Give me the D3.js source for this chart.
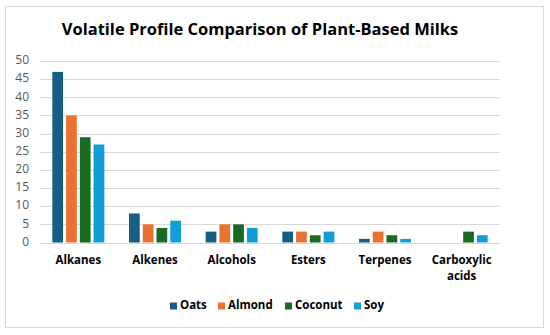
<!DOCTYPE html>
<html>
<head>
<meta charset="utf-8">
<script src="https://cdn.jsdelivr.net/npm/d3@7"></script>
<style>
	body { margin: 0; background: #fff; }
	svg { display: block; font-family: 'Open Sans', 'Noto Sans', sans-serif; }
</style>
</head>
<body>
<svg id="chart"></svg>
<script>
const categories = ['Alkanes', 'Alkenes', 'Alcohols', 'Esters', 'Terpenes', 'Carboxylic acids'];
const seriesNames = ['Oats', 'Almond', 'Coconut', 'Soy'];
const oats = [47, 8, 3, 3, 1, 0];
const almond = [35, 5, 5, 3, 3, 0];
const coconut = [29, 4, 5, 2, 2, 3];
const soy = [27, 6, 4, 3, 1, 2];
const yTicks = [0, 5, 10, 15, 20, 25, 30, 35, 40, 45, 50];
const colors = ['#156082', '#E97132', '#196B24', '#0F9ED5'];

const seriesValues = [oats, almond, coconut, soy];

const WIDTH = 550;
const HEIGHT = 335;
const margin = { top: 61, right: 50, bottom: 93, left: 40 };

const svg = d3.select('#chart').attr('width', WIDTH).attr('height', HEIGHT);

// chart frame
svg.append('rect')
	.attr('x', 5.5).attr('y', 6.5)
	.attr('width', 538).attr('height', 321)
	.attr('fill', '#fff')
	.attr('stroke', '#d9d9d9');

svg.append('text')
	.attr('x', 260).attr('y', 31)
	.attr('text-anchor', 'middle')
	.attr('dominant-baseline', 'middle')
	.attr('font-size', '16.5px')
	.attr('font-weight', 'bold')
	.attr('fill', '#000')
	.text('Volatile Profile Comparison of Plant-Based Milks');

const x0 = d3.scaleBand()
	.domain(categories)
	.range([margin.left, WIDTH - margin.right]);

const x1 = d3.scaleBand()
	.domain(seriesNames)
	.range([0, 52])
	.paddingInner(0.22);

const y = d3.scaleLinear()
	.domain([0, 50])
	.range([HEIGHT - margin.bottom + 0.5, margin.top]);

// gridlines
svg.append('g')
	.selectAll('line')
	.data(yTicks)
	.enter()
	.append('line')
	.attr('x1', margin.left)
	.attr('x2', WIDTH - margin.right)
	.attr('y1', (d) => Math.round(y(d)) + 0.5)
	.attr('y2', (d) => Math.round(y(d)) + 0.5)
	.attr('stroke', '#d9d9d9')
	.attr('stroke-width', 1);

// y tick labels
svg.append('g')
	.selectAll('text')
	.data(yTicks)
	.enter()
	.append('text')
	.attr('x', 29)
	.attr('y', (d) => y(d))
	.attr('text-anchor', 'end')
	.attr('dominant-baseline', 'middle')
	.attr('font-size', '12px')
	.attr('fill', '#595959')
	.text((d) => d);

// bars
const groups = svg.append('g')
	.selectAll('g')
	.data(categories)
	.enter()
	.append('g')
	.attr('transform', (d) => `translate(${x0(d) + (x0.bandwidth() - 52) / 2},0)`);

groups.selectAll('rect')
	.data((d, i) => seriesNames.map((s, j) => ({ series: s, value: seriesValues[j][i], color: colors[j] })))
	.enter()
	.append('rect')
	.attr('x', (d) => x1(d.series))
	.attr('width', x1.bandwidth())
	.attr('y', (d) => y(d.value))
	.attr('height', (d) => y(0) - y(d.value))
	.attr('fill', (d) => d.color);

// category labels (wrap two-word ones)
const catLabels = svg.append('g')
	.selectAll('text')
	.data(categories)
	.enter()
	.append('text')
	.attr('x', (d) => x0(d) + x0.bandwidth() / 2)
	.attr('y', 260)
	.attr('text-anchor', 'middle')
	.attr('font-size', '11.5px')
	.attr('font-weight', 'bold')
	.attr('fill', '#000');

catLabels.each(function (d) {
	const words = d.split(' ');
	const t = d3.select(this);
	words.forEach((w, i) => {
		t.append('tspan')
			.attr('x', x0(d) + x0.bandwidth() / 2)
			.attr('dy', i === 0 ? '0.35em' : '1.35em')
			.text(w);
	});
});

// legend
const legendX = [170, 218, 285, 354];
const legend = svg.append('g')
	.selectAll('g')
	.data(seriesNames)
	.enter()
	.append('g')
	.attr('transform', (d, i) => `translate(${legendX[i]},306)`);

legend.append('rect')
	.attr('x', 0).attr('y', -3.5)
	.attr('width', 7).attr('height', 7)
	.attr('fill', (d, i) => colors[i]);

legend.append('text')
	.attr('x', 10)
	.attr('y', 0)
	.attr('dominant-baseline', 'middle')
	.attr('font-size', '11.5px')
	.attr('font-weight', 'bold')
	.attr('fill', '#000')
	.text((d) => d);
</script>
</body>
</html>
